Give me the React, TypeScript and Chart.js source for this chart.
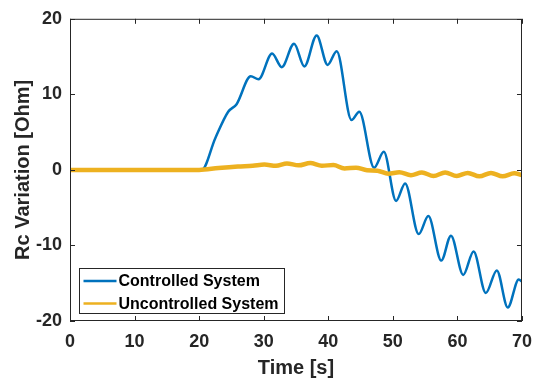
import { useEffect, useRef } from "react";
import { Chart, registerables } from "chart.js";

Chart.register(...registerables);

// ---- data ----
const controlledTime = [0, 20.4, 22.5, 24.5, 25.8, 28.0, 29.2, 31.3, 32.8, 34.7, 36.3, 38.2, 39.9, 41.3, 43.6, 44.8, 47.1, 48.6, 50.5, 51.9, 54.0, 55.5, 57.5, 59.0, 60.9, 62.5, 64.4, 66.1, 67.8, 69.5, 70];
const controlledValue = [0, 0, 4.2, 7.7, 8.7, 12.4, 12.0, 15.4, 13.6, 16.7, 13.7, 17.8, 13.9, 15.7, 6.6, 7.7, 0.3, 2.4, -4.1, -1.8, -8.5, -6.1, -12.0, -8.7, -13.9, -10.8, -16.3, -13.3, -18.2, -14.5, -14.8];

const uncontrolledTime = [0, 20, 23, 26, 28.3, 30.1, 31.9, 33.6, 35.4, 37.2, 39.0, 40.8, 42.5, 44.3, 46.0, 47.6, 49.3, 51.0, 52.8, 54.5, 56.3, 58.1, 59.9, 61.6, 63.4, 65.2, 67.0, 68.8, 70];
const uncontrolledValue = [0, 0, 0.25, 0.45, 0.55, 0.7, 0.55, 0.85, 0.6, 0.9, 0.55, 0.65, 0.2, 0.3, -0.05, -0.1, -0.5, -0.3, -0.7, -0.35, -0.8, -0.35, -0.8, -0.4, -0.85, -0.4, -0.85, -0.45, -0.7];

const xTicks = [0, 10, 20, 30, 40, 50, 60, 70];
const yTicks = [-20, -10, 0, 10, 20];
const seriesLabels = ["Controlled System", "Uncontrolled System"];
const seriesColors = ["#0072BD", "#EDB120"];
const xTitle = "Time [s]";
const yTitle = "Rc Variation [Ohm]";

const FONT = "'Liberation Sans', Arial, sans-serif";
const AXIS_COLOR = "#262626";

const boxPlugin = {
  id: "matlabBox",
  afterDraw(chart: any) {
    const { ctx, chartArea, scales } = chart;
    const { left, right, top, bottom } = chartArea;
    const xs = scales.x;
    const ys = scales.y;
    ctx.save();
    ctx.strokeStyle = AXIS_COLOR;
    ctx.lineWidth = 1;
    ctx.strokeRect(left + 0.5, top + 0.5, right - left - 1, bottom - top - 1);
    const tl = 5;
    ctx.beginPath();
    xTicks.forEach((v) => {
      const px = Math.round(xs.getPixelForValue(v)) + 0.5;
      ctx.moveTo(px, bottom);
      ctx.lineTo(px, bottom - tl);
      ctx.moveTo(px, top);
      ctx.lineTo(px, top + tl);
    });
    yTicks.forEach((v) => {
      const py = Math.round(ys.getPixelForValue(v)) + 0.5;
      ctx.moveTo(left, py);
      ctx.lineTo(left + tl, py);
      ctx.moveTo(right, py);
      ctx.lineTo(right - tl, py);
    });
    ctx.stroke();

    // legend
    const bx = left + 9.5;
    const by = bottom - 52.5;
    const bw = 205;
    const bh = 45;
    ctx.fillStyle = "#ffffff";
    ctx.fillRect(bx, by, bw, bh);
    ctx.strokeStyle = AXIS_COLOR;
    ctx.lineWidth = 1;
    ctx.strokeRect(bx, by, bw, bh);
    ctx.font = `bold 16px ${FONT}`;
    ctx.textBaseline = "middle";
    ctx.textAlign = "left";
    chart.data.datasets.forEach((ds: any, i: number) => {
      const ry = by + 12.5 + i * 22.5;
      ctx.strokeStyle = ds.borderColor;
      ctx.lineWidth = 2.5;
      ctx.beginPath();
      ctx.moveTo(bx + 4, ry);
      ctx.lineTo(bx + 37, ry);
      ctx.stroke();
      ctx.fillStyle = "#000000";
      ctx.fillText(ds.label, bx + 39, ry + 1);
    });
    ctx.restore();
  },
};

export default function App() {
  const canvasRef = useRef<HTMLCanvasElement | null>(null);

  useEffect(() => {
    const canvas = canvasRef.current;
    if (!canvas) return;
    const chart = new Chart(canvas, {
      type: "line",
      data: {
        datasets: [
          {
            label: seriesLabels[0],
            data: controlledTime.map((t, i) => ({ x: t, y: controlledValue[i] })),
            borderColor: seriesColors[0],
            backgroundColor: seriesColors[0],
            borderWidth: 2.5,
            pointRadius: 0,
            cubicInterpolationMode: "monotone",
            order: 1,
          },
          {
            label: seriesLabels[1],
            data: uncontrolledTime.map((t, i) => ({ x: t, y: uncontrolledValue[i] })),
            borderColor: seriesColors[1],
            backgroundColor: seriesColors[1],
            borderWidth: 4.5,
            pointRadius: 0,
            cubicInterpolationMode: "monotone",
            order: 0,
          },
        ],
      },
      options: {
        responsive: false,
        animation: false,
        devicePixelRatio: 1,
        layout: { padding: { top: 13, right: 14, left: 0, bottom: 0 } },
        plugins: {
          legend: { display: false },
          tooltip: { enabled: false },
        },
        scales: {
          x: {
            type: "linear",
            min: 0,
            max: 70,
            grid: { display: false, drawTicks: false },
            border: { display: false },
            afterFit: (s: any) => {
              s.height = 57;
            },
            afterBuildTicks: (s: any) => {
              s.ticks = xTicks.map((v) => ({ value: v }));
            },
            ticks: {
              autoSkip: false,
              maxRotation: 0,
              padding: 10,
              color: AXIS_COLOR,
              font: { family: FONT, size: 18, weight: "bold" },
            },
            title: {
              display: true,
              text: xTitle,
              color: AXIS_COLOR,
              padding: { top: 0, bottom: 0 },
              font: { family: FONT, size: 20, weight: "bold", lineHeight: 1 },
            },
          },
          y: {
            type: "linear",
            min: -20,
            max: 20,
            grid: { display: false, drawTicks: false },
            border: { display: false },
            afterFit: (s: any) => {
              s.width = 70;
            },
            afterBuildTicks: (s: any) => {
              s.ticks = yTicks.map((v) => ({ value: v }));
            },
            ticks: {
              autoSkip: false,
              padding: 8,
              color: AXIS_COLOR,
              font: { family: FONT, size: 18, weight: "bold" },
            },
            title: {
              display: true,
              text: yTitle,
              color: AXIS_COLOR,
              padding: { top: 13.5, bottom: 0 },
              font: { family: FONT, size: 20, weight: "bold", lineHeight: 1 },
            },
          },
        },
      },
      plugins: [boxPlugin],
    } as any);
    return () => chart.destroy();
  }, []);

  return (
    <div style={{ position: "absolute", left: 0, top: 0, width: 542, height: 378, background: "#ffffff" }}>
      <canvas ref={canvasRef} width={542} height={378} style={{ display: "block" }} />
    </div>
  );
}
